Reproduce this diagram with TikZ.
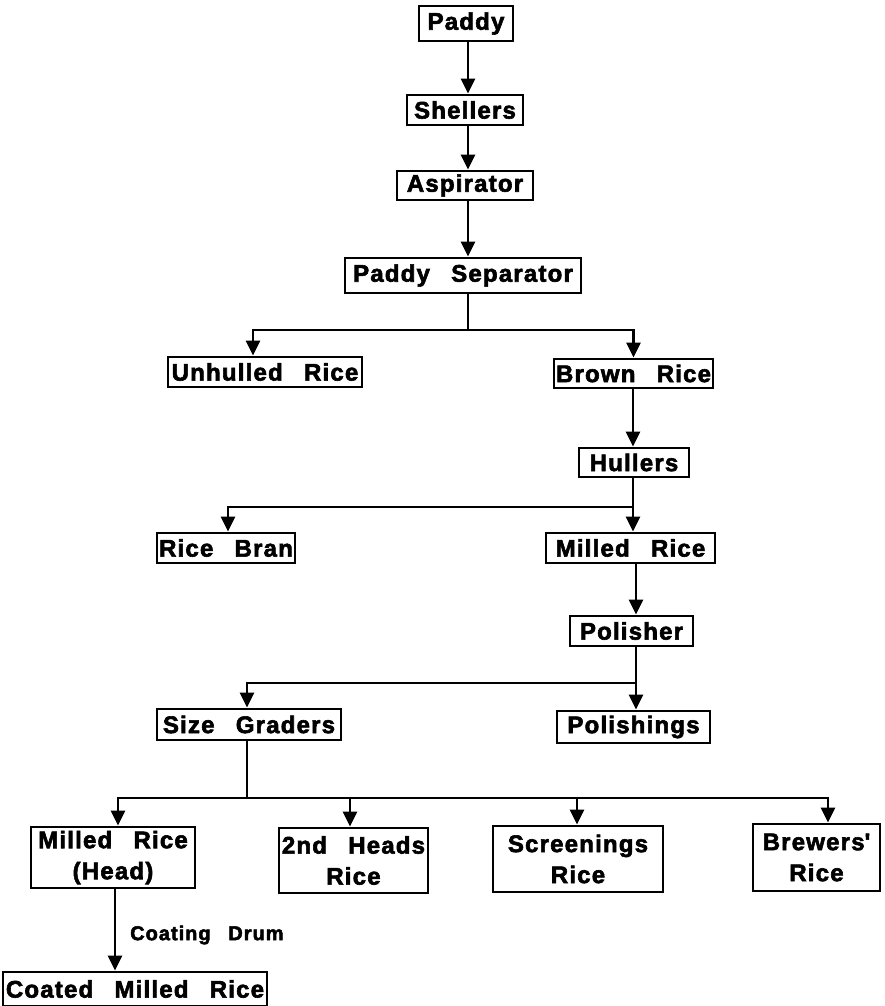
\documentclass[tikz,border=0pt]{standalone}
\usepackage{fontspec}
\setmainfont{Liberation Sans}[LetterSpace=5,WordSpace=2.7,BoldFeatures={FakeBold=2.5}]
\usetikzlibrary{arrows.meta}
\begin{document}
\begin{tikzpicture}[x=1pt,y=-1pt,
  box/.style={draw,line width=2.8pt,inner xsep=1pt,inner ysep=0pt,font=\fontsize{24}{31}\selectfont\bfseries,align=center},
  conn/.style={line width=2.8pt},
  arr/.style={line width=2.8pt,-{Triangle[length=15pt,width=14pt]}}]
\useasboundingbox (0,0) rectangle (884,1006);
\node[box,minimum width=94pt,minimum height=35pt] (paddy) at (466,23.5) {Paddy};
\node[box,minimum width=116pt,minimum height=30pt] (shellers) at (465,110) {Shellers};
\node[box,minimum width=136pt,minimum height=29pt] (aspirator) at (465,185.5) {Aspirator};
\node[box,minimum width=236pt,minimum height=35pt] (sep) at (463,275.5) {Paddy Separator};
\node[box,minimum width=194pt,minimum height=30pt] (unhulled) at (265,372) {Unhulled Rice};
\node[box,minimum width=159pt,minimum height=29pt] (brown) at (633.5,373.5) {Brown Rice};
\node[box,minimum width=110pt,minimum height=29pt] (hullers) at (634,462.5) {Hullers};
\node[box,minimum width=138pt,minimum height=30pt] (bran) at (226,548) {Rice Bran};
\node[box,minimum width=169pt,minimum height=30pt] (milled) at (630.5,548) {Milled Rice};
\node[box,minimum width=123pt,minimum height=30pt] (polisher) at (631.5,631) {Polisher};
\node[box,minimum width=184pt,minimum height=31pt] (size) at (249,724.5) {Size Graders};
\node[box,minimum width=153pt,minimum height=32pt] (polishings) at (633.5,727) {Polishings};
\node[box,minimum width=164pt,minimum height=61pt] (head) at (113,857.5) {Milled Rice\\(Head)};
\node[box,minimum width=149pt,minimum height=65pt] (heads2) at (353.5,860.5) {2nd Heads\\Rice};
\node[box,minimum width=170pt,minimum height=66pt] (screen) at (578,859) {Screenings\\Rice};
\node[box,minimum width=127pt,minimum height=67pt] (brewers) at (816.5,857.5) {Brewers\textquotesingle\\Rice};
\node[box,minimum width=264pt,minimum height=34pt] (coated) at (135,989) {Coated Milled Rice};
\node[font=\fontsize{20}{22}\selectfont\bfseries,anchor=west,inner sep=0pt] (drum) at (130,935) {Coating Drum};
% connectors
\coordinate (c1) at (468,0);
\draw[arr] (paddy.south -| c1) -- (shellers.north -| c1);
\draw[arr] (shellers.south -| c1) -- (aspirator.north -| c1);
\draw[arr] (aspirator.south -| c1) -- (sep.north -| c1);
\coordinate (j1) at (468,330);
\draw[conn] (sep.south -| j1) -- (j1);
\draw[arr] (j1) -| ([xshift=-12pt]unhulled.north);
\draw[arr] (j1) -| (brown.north);
\coordinate (j2) at (633,507);
\draw[arr] (brown.south -| j2) -- (hullers.north -| j2);
\draw[conn] (hullers.south -| j2) -- (j2);
\draw[arr] (j2) -| ([xshift=2pt]bran.north);
\draw[arr] (j2) -- (j2 |- milled.north);
\coordinate (j3) at (636,683);
\draw[arr] (milled.south -| j3) -- (polisher.north -| j3);
\draw[conn] (polisher.south -| j3) -- (j3);
\draw[arr] (j3) -| ([xshift=-2pt]size.north);
\draw[arr] (j3) -- (j3 |- polishings.north);
\coordinate (j4) at (247,798);
\draw[conn] (size.south -| j4) -- (j4);
\draw[arr] (j4) -| ([xshift=5pt]head.north);
\draw[arr] (j4) -| ([xshift=-3.5pt]heads2.north);
\draw[arr] (j4) -| ([xshift=-1pt]screen.north);
\draw[arr] (j4) -| ([xshift=11.5pt]brewers.north);
\coordinate (c5) at (115,0);
\draw[arr] (head.south -| c5) -- (coated.north -| c5);
\end{tikzpicture}
\end{document}
